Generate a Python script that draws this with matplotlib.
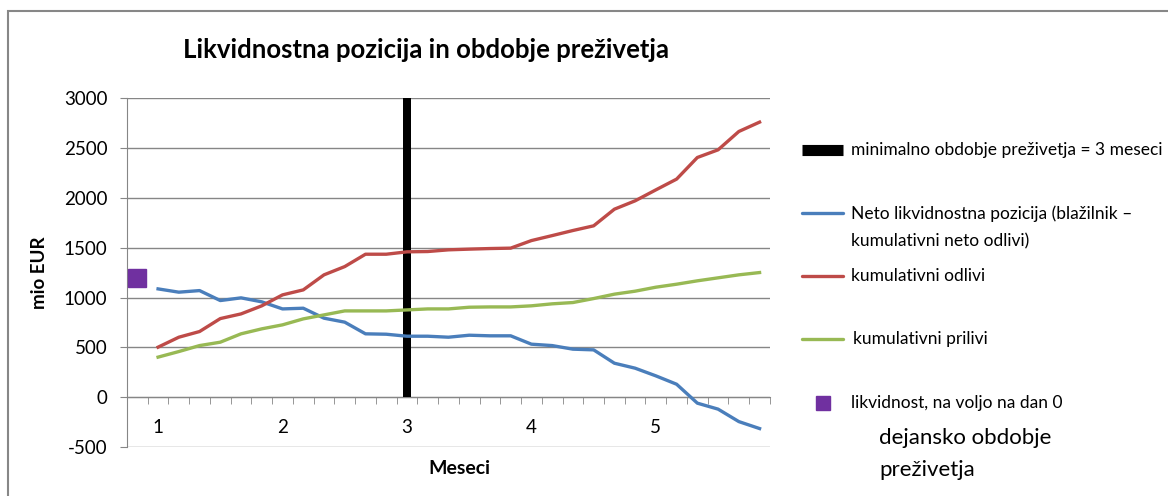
import numpy as np
import matplotlib.pyplot as plt
from matplotlib.lines import Line2D
from matplotlib.patches import Rectangle

plt.rcParams['font.family'] = ['Lato', 'DejaVu Sans']
plt.rcParams['axes.unicode_minus'] = False

# 31 categories: index 0 is day 0, then weekly steps over ~5 months
n = 31
cat_labels = ['', '1', '', '', '', '', '', '2', '', '', '', '', '', '3', '', '', '', '', '',
              '4', '', '', '', '', '', '5', '', '', '', '', '']

neto = [1087, 1054, 1070, 970, 997, 957, 886, 893, 793, 753,
        636, 632, 612, 612, 602, 622, 616, 616, 532, 518,
        482, 475, 341, 291, 214, 130, -60, -120, -245, -315]
odlivi = [502, 602, 659, 789, 836, 917, 1027, 1077, 1228, 1311,
          1435, 1435, 1459, 1462, 1479, 1486, 1492, 1496, 1572, 1622,
          1673, 1720, 1887, 1971, 2081, 2189, 2406, 2483, 2667, 2761]
prilivi = [402, 458, 518, 552, 636, 686, 726, 786, 826, 866,
           866, 866, 876, 886, 886, 903, 906, 906, 917, 937,
           950, 990, 1034, 1064, 1104, 1134, 1168, 1198, 1228, 1251]
likvidnost_dan0 = 1200
min_obdobje_idx = 13
min_obdobje_val = 3000

blue = '#4A7EBB'
red = '#BE4B48'
green = '#98B954'
purple = '#7030A0'
grid_c = '#868686'

fig = plt.figure(figsize=(11.68, 4.96), dpi=100)
ax = fig.add_axes([0.1087, 0.0988, 0.5505, 0.703])

x = np.arange(n)
ax.bar([min_obdobje_idx], [min_obdobje_val], width=0.4, color='black', zorder=3)
ax.plot(x[1:], neto, color=blue, lw=2.4, zorder=4, solid_joinstyle='round')
ax.plot(x[1:], odlivi, color=red, lw=2.4, zorder=4, solid_joinstyle='round')
ax.plot(x[1:], prilivi, color=green, lw=2.4, zorder=4, solid_joinstyle='round')
ax.plot([0], [likvidnost_dan0], marker='s', ms=13, color=purple, ls='none', zorder=5)

ax.set_xlim(-0.5, n - 0.5)
ax.set_ylim(-500, 3000)
ax.set_yticks(np.arange(-500, 3001, 500))
ax.yaxis.grid(True, color=grid_c, lw=1)
ax.set_axisbelow(True)
ax.tick_params(axis='y', length=5, color=grid_c, labelsize=13.5, pad=9)

# category axis sits at zero, ticks on category boundaries
ax.spines['bottom'].set_position(('data', 0))
ax.spines['bottom'].set_color(grid_c)
ax.spines['left'].set_color(grid_c)
ax.spines['top'].set_visible(False)
ax.spines['right'].set_visible(False)
ax.set_xticks(x)
ax.set_xticklabels(cat_labels)
ax.set_xticks(np.arange(-0.5, n, 1), minor=True)
ax.tick_params(axis='x', which='major', length=0, labelsize=13.5, pad=16)
ax.tick_params(axis='x', which='minor', length=5, color=grid_c)

ax.set_ylabel('mio EUR', fontsize=13.5, fontweight='bold', labelpad=11)
fig.text(0.393, 1 - 468 / 496, 'Meseci', fontsize=14, fontweight='bold',
         ha='center', va='center')
fig.text(0.365, 1 - 50 / 496, 'Likvidnostna pozicija in obdobje preživetja',
         fontsize=18.5, fontweight='bold', ha='center', va='center')

# outer frame
fig.add_artist(Rectangle((8 / 1168, -0.1), 1.2, 1.1 - 11 / 496, transform=fig.transFigure,
                         fill=False, edgecolor='#878787', lw=1.5))

# legend drawn by hand to keep its uneven spacing
def fy(py):
    return 1 - py / 496

hx0, hx1, tx = 802 / 1168, 843 / 1168, 851 / 1168
fs = 12.5
fig.add_artist(Line2D([hx0, hx1], [fy(150), fy(150)], color='black', lw=8,
                      solid_capstyle='butt', transform=fig.transFigure))
fig.text(tx, fy(150), 'minimalno obdobje preživetja = 3 meseci', fontsize=fs, va='center')
fig.add_artist(Line2D([hx0, hx1], [fy(213), fy(213)], color=blue, lw=2.4,
                      solid_capstyle='round', transform=fig.transFigure))
fig.text(tx, fy(214), 'Neto likvidnostna pozicija (blažilnik –', fontsize=fs, va='center')
fig.text(tx, fy(241), 'kumulativni neto odlivi)', fontsize=fs, va='center')
fig.add_artist(Line2D([hx0, hx1], [fy(276), fy(276)], color=red, lw=2.4,
                      solid_capstyle='round', transform=fig.transFigure))
fig.text(tx, fy(276), 'kumulativni odlivi', fontsize=fs, va='center')
fig.add_artist(Line2D([hx0, hx1], [fy(339), fy(339)], color=green, lw=2.4,
                      solid_capstyle='round', transform=fig.transFigure))
fig.text(853 / 1168, fy(339), 'kumulativni prilivi', fontsize=fs, va='center')
fig.add_artist(Line2D([823 / 1168], [fy(403)], marker='s', ms=10, color=purple,
                      ls='none', transform=fig.transFigure))
fig.text(tx, fy(403), 'likvidnost, na voljo na dan 0', fontsize=fs, va='center')
fig.text(879 / 1168, fy(438), 'dejansko obdobje', fontsize=16, va='center')
fig.text(879 / 1168, fy(470), 'preživetja', fontsize=16, va='center')

fig.savefig('out.png', dpi=100)
